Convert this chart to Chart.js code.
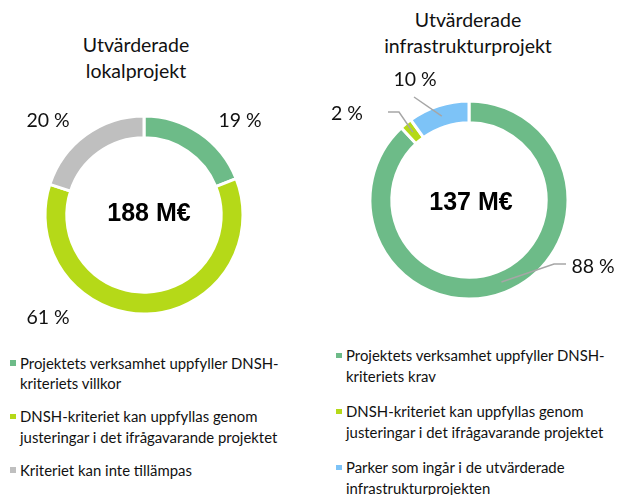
<!DOCTYPE html>
<html>
<head>
<meta charset="utf-8">
<script src="https://cdn.jsdelivr.net/npm/chart.js@4"></script>
<style>
  body { margin: 0; background: #fff; font-family: Lato, "Open Sans", sans-serif; color: #111; }
  #wrap { position: relative; width: 623px; height: 495px; overflow: hidden; }
  canvas { position: absolute; top: 0; }
  .title { position: absolute; width: 280px; text-align: center; font-size: 19.5px; line-height: 25.5px; }
  .legend { position: absolute; font-size: 14.9px; line-height: 20.5px; white-space: pre-line; }
  .legend .item { position: relative; }
  .legend .sw { position: absolute; left: -10px; top: 7.5px; width: 5.5px; height: 5.5px; }
</style>
</head>
<body>
<div id="wrap">
  <div class="title" id="t-lokal" style="left:-4px; top:32px;"></div>
  <div class="title" id="t-infra" style="left:328px; top:7px;"></div>
  <canvas id="chart-lokal" width="311" height="340" style="left:0"></canvas>
  <canvas id="chart-infra" width="312" height="340" style="left:311px"></canvas>
  <div class="legend" id="lg-lokal" style="left:20px; top:352.5px;"></div>
  <div class="legend" id="lg-infra" style="left:346px; top:345px; line-height:21px;"></div>
</div>
<script>
// Utvärderade lokalprojekt
const lokalTitel = 'Utvärderade\nlokalprojekt';
const lokalTotal = '188 M€';
const lokalKategorier = [
  'Projektets verksamhet uppfyller DNSH-\nkriteriets villkor',
  'DNSH-kriteriet kan uppfyllas genom\njusteringar i det ifrågavarande projektet',
  'Kriteriet kan inte tillämpas'
];
const lokalAndel = [19, 61, 20];
const lokalFarger = ['#6dbb88', '#b5d918', '#bfbfbf'];

// Utvärderade infrastrukturprojekt
const infraTitel = 'Utvärderade\ninfrastrukturprojekt';
const infraTotal = '137 M€';
const infraKategorier = [
  'Projektets verksamhet uppfyller DNSH-\nkriteriets krav',
  'DNSH-kriteriet kan uppfyllas genom\njusteringar i det ifrågavarande projektet',
  'Parker som ingår i de utvärderade\ninfrastrukturprojekten'
];
const infraAndel = [88, 2, 10];
const infraFarger = ['#6dbb88', '#b5d918', '#7dc3f7'];

// etiketter utanför ringen + summa i mitten
const donutLabels = {
  id: 'donutLabels',
  afterDraw(chart, args, opts) {
    const arcs = chart.getDatasetMeta(0).data;
    const values = chart.data.datasets[0].data;
    const { x, y } = arcs[0];
    const ctx = chart.ctx;
    ctx.save();
    ctx.textAlign = 'center';
    ctx.textBaseline = 'middle';
    ctx.fillStyle = '#000';
    ctx.font = 'bold 25px "Liberation Sans", Arial, sans-serif';
    ctx.fillText(opts.total, x + opts.totalOffset[0], y + opts.totalOffset[1]);

    arcs.forEach((arc, i) => {
      const p = opts.pos[i];
      const ld = opts.leaders && opts.leaders[i];
      if (ld) {
        const mid = (arc.startAngle + arc.endAngle) / 2;
        const rm = (arc.innerRadius + arc.outerRadius) / 2;
        ctx.strokeStyle = '#a6a6a6';
        ctx.lineWidth = 1.5;
        ctx.beginPath();
        ctx.moveTo(x + ld[0], y + ld[1]);
        if (ld.length > 2) ctx.lineTo(x + ld[2], y + ld[3]);
        ctx.lineTo(x + Math.cos(mid) * rm, y + Math.sin(mid) * rm);
        ctx.stroke();
      }
      ctx.fillStyle = '#111';
      ctx.font = '19.5px Lato, "Open Sans", sans-serif';
      ctx.fillText(values[i] + ' %', x + p[0], y + p[1]);
    });
    ctx.restore();
  }
};

function renderDonut(id, kategorier, andel, farger, padding, labelOpts) {
  return new Chart(document.getElementById(id), {
    type: 'doughnut',
    data: {
      labels: kategorier,
      datasets: [{
        data: andel,
        backgroundColor: farger,
        borderColor: '#fff',
        borderWidth: 3,
        hoverOffset: 0
      }]
    },
    options: {
      responsive: false,
      animation: false,
      cutout: '78%',
      layout: { padding },
      plugins: {
        legend: { display: false },
        tooltip: { enabled: false },
        donutLabels: labelOpts
      }
    },
    plugins: [donutLabels]
  });
}

function renderLegend(id, kategorier, farger) {
  const el = document.getElementById(id);
  kategorier.forEach((k, i) => {
    const item = document.createElement('div');
    item.className = 'item';
    item.style.marginBottom = id === 'lg-infra' ? '14px' : '12.5px';
    item.innerHTML = '<span class="sw" style="background:' + farger[i] + '"></span>';
    item.appendChild(document.createTextNode(k));
    el.appendChild(item);
  });
}

document.getElementById('t-lokal').innerText = lokalTitel;
document.getElementById('t-infra').innerText = infraTitel;

renderDonut('chart-lokal', lokalKategorier, lokalAndel, lokalFarger,
  { left: 43.5, right: 66.5, top: 114.5, bottom: 24.5 },
  {
    total: lokalTotal, totalOffset: [5, -1],
    pos: [[96, -94], [-96, 103], [-96, -94]]
  });

renderDonut('chart-infra', infraKategorier, infraAndel, infraFarger,
  { left: 57.5, right: 53.5, top: 99.5, bottom: 39.5 },
  {
    total: infraTotal, totalOffset: [2, 3],
    pos: [[124, 67], [-122, -86], [-54, -120]],
    leaders: [[97, 64, 85, 64], [-81, -88, -70, -88], [-55, -103]]
  });

renderLegend('lg-lokal', lokalKategorier, lokalFarger);
renderLegend('lg-infra', infraKategorier, infraFarger);
</script>
</body>
</html>
